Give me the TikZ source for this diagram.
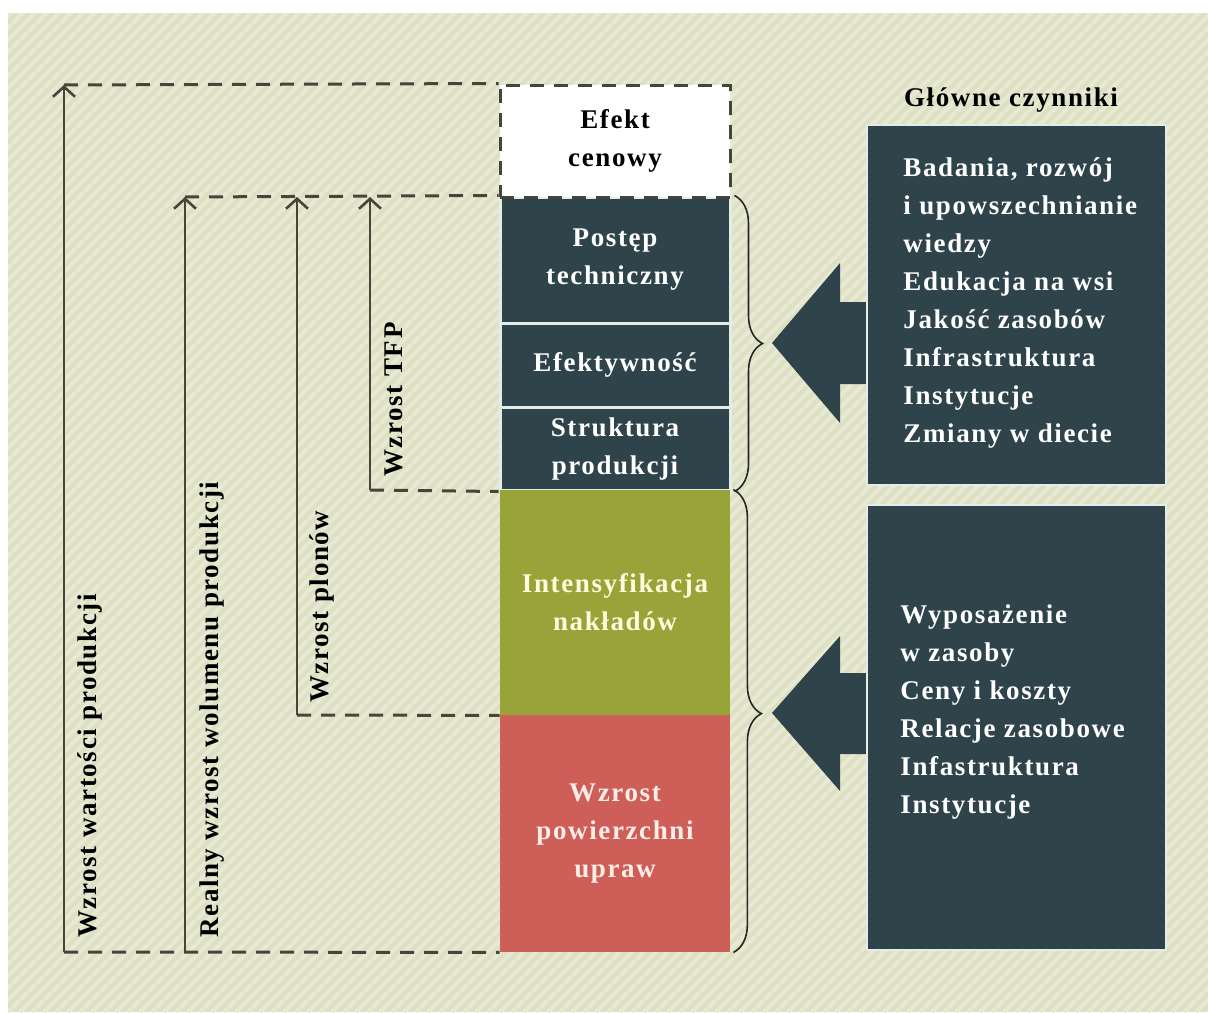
\documentclass[tikz,border=0pt]{standalone}
\usepackage{fontspec}
\setmainfont{Liberation Serif}[LetterSpace=6]
\usetikzlibrary{arrows.meta,decorations.pathreplacing}
\definecolor{bgbase}{HTML}{DDE0C2}
\definecolor{bgstripe}{HTML}{E7E9D3}
\definecolor{slate}{HTML}{2F434A}
\definecolor{olive}{HTML}{98A33A}
\definecolor{brick}{HTML}{CD5F58}
\definecolor{lineclr}{HTML}{45453A}
\definecolor{cream}{HTML}{FFFBDC}
\definecolor{pinkwhite}{HTML}{FCEDE6}
\definecolor{paleline}{HTML}{E4ECEA}
\begin{document}
\begin{tikzpicture}[x=0.5pt,y=-0.5pt,
  txt/.style={font=\fontsize{13.5}{19}\selectfont\bfseries},
  colbox/.style={txt, minimum width=115pt, inner sep=0pt, align=center},
  slatebox/.style={colbox, fill=slate, draw=paleline, line width=1.5pt, text=white},
  olivebox/.style={colbox, fill=olive, text=cream},
  brickbox/.style={colbox, fill=brick, text=pinkwhite},
  effbox/.style={colbox, fill=white, draw=lineclr, line width=1.5pt, dash pattern=on 7pt off 5pt, text=black},
  factbox/.style={fill=slate, draw=paleline, line width=0.6pt, inner sep=0pt},
  facttext/.style={txt, text=white, align=left, inner sep=0pt},
  vlabel/.style={txt, rotate=90, inner sep=0pt, text=black},
  arrowline/.style={draw=lineclr, line width=1.3pt, -{Straight Barb[length=5pt,width=11pt,line width=1.3pt]}},
  dashline/.style={draw=lineclr, line width=1.5pt, dash pattern=on 7pt off 5pt},
  bracestyle/.style={draw=black!85, line width=0.8pt, decorate}
]
\useasboundingbox (0,0) rectangle (1208,1012);
\fill[white] (0,0) rectangle (1208,1012);
\fill[bgbase] (8,13) rectangle (1208,1012);
\begin{scope}
  \clip (8,13) rectangle (1208,1012);
  \foreach \s in {-1000,-988,...,1212}
    \draw[bgstripe, line width=2pt] (\s,1012) -- ++(1000,-1000);
\end{scope}

% left column boxes
\node[slatebox, minimum height=63pt] (post) at (615,260) {Postęp\\techniczny};
\node[slatebox, minimum height=42pt] (efek) at (615,365) {Efektywność};
\node[slatebox, minimum height=41.5pt] (strukt) at (615,448.5) {Struktura\\produkcji};
\node[olivebox, minimum height=112.5pt] (intens) at (615,602.5) {Intensyfikacja\\nakładów};
\node[brickbox, minimum height=118.5pt] (powierz) at (615,833.5) {Wzrost\\powierzchni\\upraw};
\node[effbox, minimum height=56pt] (efekt) at (615,141) {Efekt\\cenowy};

% arrow coordinates
\coordinate (a1b) at (64,952);  \coordinate (a1t) at (64,85);
\coordinate (a2b) at (185,952); \coordinate (a2t) at (185,197);
\coordinate (a3b) at (297,715); \coordinate (a3t) at (297,197);
\coordinate (a4b) at (370,490); \coordinate (a4t) at (370,197);

\draw[dashline] (a1t) -- (efekt.north west);
\draw[dashline] (a2t) -- (post.north west);
\draw[dashline] (a4b) -- (strukt.south west);
\draw[dashline] (a3b) -- (intens.south west);
\draw[dashline] (a1b) -- (powierz.south west);

\draw[arrowline] (a1b) -- (a1t);
\draw[arrowline] (a2b) -- (a2t);
\draw[arrowline] (a3b) -- (a3t);
\draw[arrowline] (a4b) -- (a4t);

\node[vlabel, anchor=west] (l1) at (90,938) {Wzrost wartości produkcji};
\node[vlabel, anchor=west] (l2) at (212,938) {Realny wzrost wolumenu produkcji};
\node[vlabel, anchor=west] (l3) at (322,703) {Wzrost plonów};
\node[vlabel, anchor=west] (l4) at (394,477) {Wzrost TFP};

% braces
\draw[bracestyle, decoration={brace, amplitude=14pt}]
  ([xshift=1.5pt]post.north east) -- ([xshift=1.5pt]strukt.south east);
\draw[bracestyle, decoration={brace, amplitude=14pt, aspect=0.484}]
  ([xshift=1.5pt]intens.north east) -- ([xshift=1.5pt]powierz.south east);

% big arrows
\fill[slate] (772,343) -- (840,263) -- (840,302) -- (872,302) -- (872,384) -- (840,384) -- (840,423) -- cycle;
\fill[slate] (772,713) -- (840,636) -- (840,673) -- (872,673) -- (872,754) -- (840,754) -- (840,791) -- cycle;

% factor boxes
\node[txt, text=black] (head) at (1011,100) {Główne czynniki};
\node[factbox, minimum width=149.5pt, minimum height=180pt] (f1) at (1016.5,305) {};
\node[facttext, anchor=west] (f1t) at (903,303) {Badania, rozwój\\i upowszechnianie\\wiedzy\\Edukacja na wsi\\Jakość zasobów\\Infrastruktura\\Instytucje\\Zmiany w diecie};
\node[factbox, minimum width=149.5pt, minimum height=222.5pt] (f2) at (1016.5,727.5) {};
\node[facttext, anchor=west] (f2t) at (900,712) {Wyposażenie\\w zasoby\\Ceny i koszty\\Relacje zasobowe\\Infastruktura\\Instytucje};
\end{tikzpicture}
\end{document}
